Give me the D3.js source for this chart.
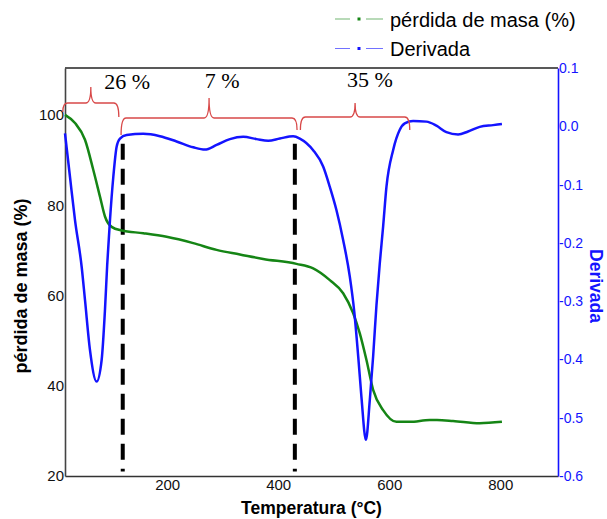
<!DOCTYPE html>
<html>
<head>
<meta charset="utf-8">
<script src="https://cdn.jsdelivr.net/npm/d3@7"></script>
<style>
  body { margin: 0; background: #fff; }
  svg { display: block; font-family: "Liberation Sans", Arial, sans-serif; }
</style>
</head>
<body>
<script>
// mass loss curve (left axis)
var tempMasa = [16, 34, 52, 67, 79, 88, 100, 118, 157, 199, 247, 289, 331, 373, 433, 463,
                493, 517, 535, 547, 559, 571, 589, 613, 637, 673, 686, 715, 763, 803];
var masa = [100.0, 98.2, 94.5, 87.8, 81.9, 77.5, 75.2, 74.4, 73.8, 73.0, 71.6, 70.1, 69.1, 68.1, 67.0, 66.0,
            63.4, 60.5, 56.1, 51.6, 45.7, 39.1, 34.6, 32.0, 32.0, 32.4, 32.4, 32.2, 31.7, 32.0];

// derivative curve (right axis)
var tempDeriv = [16, 25, 34, 46, 52, 61, 73, 82, 88, 92, 97, 103, 109, 115, 127, 157, 187, 217, 247, 268,
                 289, 313, 337, 361, 382, 403, 427, 439, 463, 481, 493, 505, 517, 529, 537, 545, 550, 558,
                 565, 571, 577, 583, 589, 595, 607, 619, 628, 643, 667, 685, 703, 724, 742, 763, 787, 803];
var deriv = [-0.012, -0.087, -0.161, -0.241, -0.298, -0.384, -0.438, -0.401, -0.315, -0.238, -0.161, -0.087,
             -0.035, -0.021, -0.015, -0.013, -0.017, -0.026, -0.036, -0.040, -0.032, -0.022, -0.018, -0.022,
             -0.025, -0.021, -0.017, -0.021, -0.041, -0.069, -0.104, -0.144, -0.195, -0.258, -0.318, -0.405,
             -0.465, -0.538, -0.470, -0.395, -0.307, -0.235, -0.172, -0.104, -0.041, -0.006, 0.005, 0.009,
             0.008, 0.001, -0.010, -0.014, -0.009, -0.001, 0.002, 0.004];

// ticks
var xTicks = [200, 400, 600, 800];
var yLeftTicks = [20, 40, 60, 80, 100];
var yRightTicks = [-0.6, -0.5, -0.4, -0.3, -0.2, -0.1, 0.0, 0.1];

// step annotations
var stepLabels = ["26 %", "7 %", "35 %"];
var stepStart = [12, 117, 440];
var stepEnd = [113, 434, 637];
var stepLabelT = [128, 299, 565];
var markerT = [120, 430];

var legendNames = ["pérdida de masa (%)", "Derivada"];

// layout
var W = 607, H = 519;
var margin = {top: 68, right: 49, bottom: 43, left: 65},
    width = W - margin.left - margin.right,
    height = H - margin.top - margin.bottom;

var green = "#158515", blue = "#1414ff", red = "#d84848";

var x = d3.scaleLinear().domain([16, 904]).range([0, width]);
var yL = d3.scaleLinear().domain([20, 110.4]).range([height, 0]);
var yR = d3.scaleLinear().domain([-0.6, 0.1]).range([height, 0]);

var svg = d3.select("body").append("svg")
    .attr("width", W)
    .attr("height", H);

var g = svg.append("g")
    .attr("transform", "translate(" + margin.left + "," + margin.top + ")");

// top frame line
g.append("line")
    .attr("x1", 0).attr("x2", width).attr("y1", 0).attr("y2", 0)
    .attr("stroke", "#222").attr("stroke-width", 1.5);

// axes
var xAxis = g.append("g")
    .attr("transform", "translate(0," + height + ")")
    .call(d3.axisBottom(x).tickValues(xTicks).tickSize(0).tickPadding(3));
xAxis.selectAll("text").attr("font-size", 15).attr("fill", "#111").attr("font-family", "Liberation Sans");
xAxis.select(".domain").attr("stroke", "#333").attr("stroke-width", 1.6);

var yAxisL = g.append("g")
    .call(d3.axisLeft(yL).tickValues(yLeftTicks).tickSize(0).tickPadding(1));
yAxisL.selectAll("text").attr("font-size", 15).attr("fill", "#111").attr("font-family", "Liberation Sans");
yAxisL.select(".domain").attr("stroke", "#444").attr("stroke-width", 1.6);

var fmt = d3.format(".1f");
var yAxisR = g.append("g")
    .attr("transform", "translate(" + width + ",0)")
    .call(d3.axisRight(yR).tickValues(yRightTicks).tickSize(0).tickPadding(1)
      .tickFormat(function(d) { return fmt(d).replace("\u2212", "-"); }));
yAxisR.selectAll("text").attr("font-size", 14).attr("fill", blue).attr("font-family", "Liberation Sans");
yAxisR.select(".domain").attr("stroke", blue).attr("stroke-width", 1.6);

// axis titles
svg.append("text")
    .attr("transform", "translate(27,286) rotate(-90)")
    .attr("text-anchor", "middle")
    .attr("font-weight", "bold").attr("font-size", 18)
    .text("pérdida de masa (%)");

svg.append("text")
    .attr("transform", "translate(590,286) rotate(90)")
    .attr("text-anchor", "middle")
    .attr("font-weight", "bold").attr("font-size", 17.5)
    .attr("fill", blue)
    .text("Derivada");

svg.append("text")
    .attr("x", margin.left + width / 2).attr("y", 514)
    .attr("text-anchor", "middle")
    .attr("font-weight", "bold").attr("font-size", 17.5)
    .text("Temperatura (°C)");

// curves
var masaData = tempMasa.map(function(t, i) { return {t: t, v: masa[i]}; });
var derivData = tempDeriv.map(function(t, i) { return {t: t, v: deriv[i]}; });

var lineMasa = d3.line()
    .x(function(d) { return x(d.t); })
    .y(function(d) { return yL(d.v); })
    .curve(d3.curveMonotoneX);

var lineDeriv = d3.line()
    .x(function(d) { return x(d.t); })
    .y(function(d) { return yR(d.v); })
    .curve(d3.curveMonotoneX);

// dashed step markers
g.selectAll(".marker")
    .data(markerT)
  .enter().append("line")
    .attr("class", "marker")
    .attr("x1", function(d) { return x(d); })
    .attr("x2", function(d) { return x(d); })
    .attr("y1", yR(-0.03))
    .attr("y2", yL(21))
    .attr("stroke", "#000")
    .attr("stroke-width", 4)
    .attr("stroke-dasharray", "16,9");

g.append("path")
    .datum(masaData)
    .attr("fill", "none")
    .attr("stroke", green)
    .attr("stroke-width", 2.5)
    .attr("d", lineMasa);

g.append("path")
    .datum(derivData)
    .attr("fill", "none")
    .attr("stroke", blue)
    .attr("stroke-width", 2.5)
    .attr("d", lineDeriv);

// curly braces (pixel offsets from plot top: horizontal, peak, left tip, right tip)
var braceLayout = [[35, 19, 44, 49], [50, 30, 67, 62], [49, 35, 62, 62]];

function bracePath(x0, x1, xm, b) {
  var r = 5, p = d3.path();
  p.moveTo(x0, b[2]);
  p.quadraticCurveTo(x0, b[0], x0 + r, b[0]);
  p.lineTo(xm - r, b[0]);
  p.quadraticCurveTo(xm, b[0], xm, b[1]);
  p.quadraticCurveTo(xm, b[0], xm + r, b[0]);
  p.lineTo(x1 - r, b[0]);
  p.quadraticCurveTo(x1, b[0], x1, b[3]);
  return p.toString();
}

stepLabels.forEach(function(lbl, i) {
  var x0 = x(stepStart[i]), x1 = x(stepEnd[i]), xm = (x0 + x1) / 2;
  g.append("path")
      .attr("d", bracePath(x0, x1, xm, braceLayout[i]))
      .attr("fill", "none")
      .attr("stroke", red)
      .attr("stroke-width", 1.3);
  g.append("text")
      .attr("x", x(stepLabelT[i]))
      .attr("y", 21 - i * 0.8)
      .attr("text-anchor", "middle")
      .attr("font-family", "Liberation Serif, Times New Roman, serif")
      .attr("font-size", 22)
      .text(lbl);
});

// legend
var legend = svg.append("g");
[green, blue].forEach(function(c, i) {
  var ly = 19 + i * 29.5;
  legend.append("line")
      .attr("x1", 335).attr("x2", 383).attr("y1", ly).attr("y2", ly)
      .attr("stroke", c).attr("stroke-width", 1.2).attr("opacity", 0.6)
      .attr("stroke-dasharray", "15,8,0,8,17");
  legend.append("rect")
      .attr("x", 357.5).attr("y", ly - 1.5).attr("width", 3).attr("height", 3)
      .attr("fill", c);
  legend.append("text")
      .attr("x", 390).attr("y", ly + 7.5)
      .attr("font-size", 20)
      .text(legendNames[i]);
});
</script>
</body>
</html>
